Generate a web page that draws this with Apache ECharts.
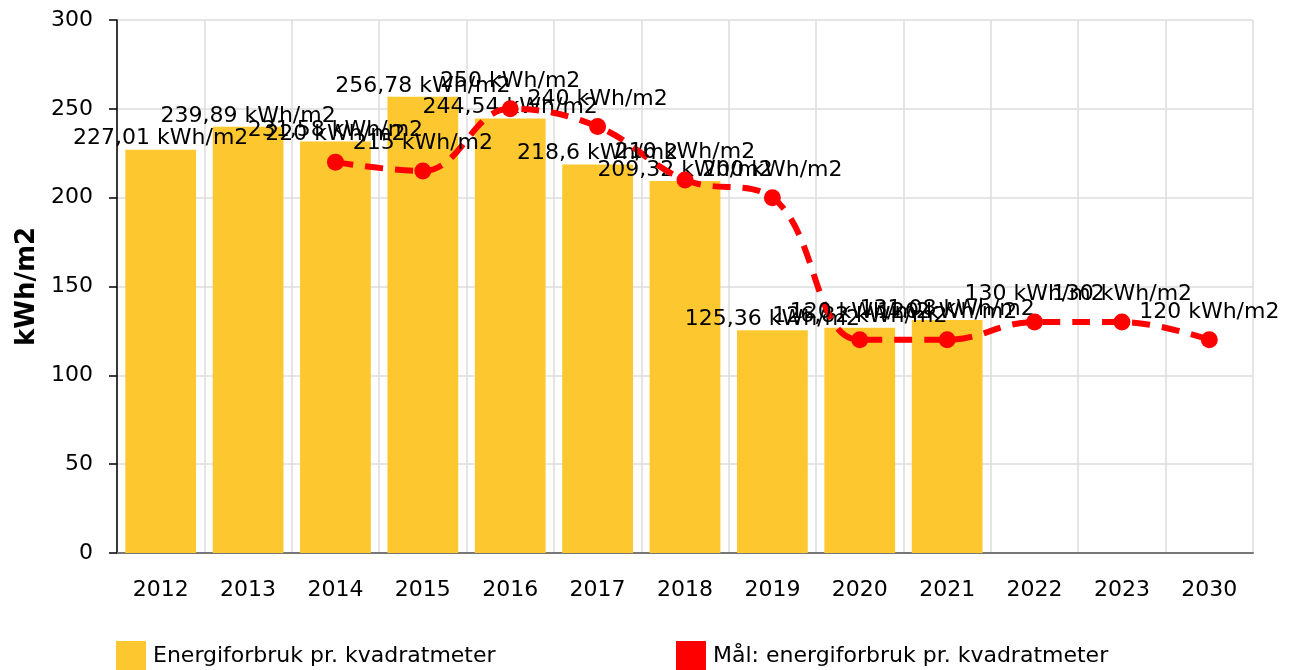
<!DOCTYPE html>
<html>
<head>
<meta charset="utf-8">
<script src="https://cdn.jsdelivr.net/npm/echarts@6/dist/echarts.min.js"></script>
<style>
  html, body { margin: 0; padding: 0; background: #fff; }
  #chart { width: 1297px; height: 670px; }
</style>
</head>
<body>
<div id="chart"></div>
<script>
// data
const years = ['2012', '2013', '2014', '2015', '2016', '2017', '2018', '2019', '2020', '2021', '2022', '2023', '2030']
const forbruk = [227.01, 239.89, 231.58, 256.78, 244.54, 218.6, 209.32, 125.36, 126.82, 131.08, '-', '-', '-']
const maal = ['-', '-', 220, 215, 250, 240, 210, 200, 120, 120, 130, 130, 120]
const yTicks = { min: 0, max: 300, interval: 50 }

const barName = 'Energiforbruk pr. kvadratmeter'
const lineName = 'Mål: energiforbruk pr. kvadratmeter'

const font = 'DejaVu Sans, Verdana, sans-serif'

const chart = echarts.init(document.getElementById('chart'), null, { renderer: 'canvas' })

// 227.01 -> "227,01 kWh/m2"
function fmt(v) {
  return String(v).replace('.', ',') + ' kWh/m2'
}

const legendBase = {
  top: 641,
  padding: 0,
  itemWidth: 30,
  itemHeight: 30,
  itemGap: 7,
  icon: 'rect',
  textStyle: { fontSize: 22, color: '#000', fontFamily: font, padding: [0, 0, 0, 2] }
}

const option = {
  animation: false,
  textStyle: { fontFamily: font },
  grid: {
    left: 117,
    right: 44,
    top: 20,
    bottom: 117
  },
  legend: [
    Object.assign({}, legendBase, { data: [barName], left: 116 }),
    Object.assign({}, legendBase, { data: [lineName], left: 676 })
  ],
  xAxis: {
    type: 'category',
    data: years,
    boundaryGap: true,
    axisLine: { lineStyle: { color: '#777', width: 2 } },
    axisTick: { alignWithLabel: true, length: 8, lineStyle: { color: '#999', width: 2 } },
    axisLabel: { fontSize: 22, color: '#000', margin: 26 },
    splitLine: { show: true, lineStyle: { color: '#ddd', width: 1.5 } }
  },
  yAxis: {
    type: 'value',
    min: yTicks.min,
    max: yTicks.max,
    interval: yTicks.interval,
    name: 'kWh/m2',
    nameLocation: 'middle',
    nameGap: 74,
    nameRotate: 90,
    nameTextStyle: { fontSize: 26, fontWeight: 'bold', color: '#000' },
    axisLine: { show: true, lineStyle: { color: '#000', width: 1.5 } },
    axisTick: { show: true, length: 8, lineStyle: { color: '#000', width: 1.5 } },
    axisLabel: { fontSize: 22, color: '#000', margin: 24 },
    splitLine: { lineStyle: { color: '#ddd', width: 1.5 } }
  },
  series: [
    {
      name: barName,
      type: 'bar',
      data: forbruk,
      barWidth: '81%',
      itemStyle: { color: '#fdc82f' },
      label: {
        show: true,
        position: 'top',
        distance: 0,
        fontSize: 22,
        color: '#000',
        formatter: p => fmt(p.value)
      }
    },
    {
      name: lineName,
      type: 'line',
      data: maal,
      smooth: 0.4,
      symbol: 'circle',
      symbolSize: 17,
      z: 3,
      itemStyle: { color: '#ff0000' },
      lineStyle: { color: '#ff0000', width: 6, type: [18, 12] },
      label: {
        show: true,
        position: 'top',
        distance: 8,
        fontSize: 22,
        color: '#000',
        formatter: p => fmt(p.value)
      }
    }
  ]
}

chart.setOption(option)
</script>
</body>
</html>
